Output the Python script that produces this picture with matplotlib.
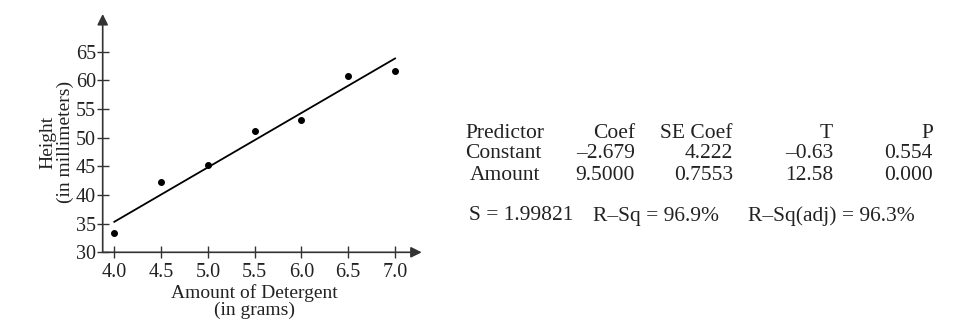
import matplotlib
matplotlib.use("Agg")
import matplotlib.pyplot as plt
import numpy as np

# Data
amount = [4.0, 4.5, 5.0, 5.5, 6.0, 6.5, 7.0]
height = [33.3, 42.2, 45.3, 51.1, 53.0, 60.7, 61.6]
intercept = -2.679
slope = 9.5
x_ticks = [4.0, 4.5, 5.0, 5.5, 6.0, 6.5, 7.0]
y_ticks = [30, 35, 40, 45, 50, 55, 60, 65]

table_header = ["Predictor", "Coef", "SE Coef", "T", "P"]
table_rows = [
    ["Constant", "\u20132.679", "4.222", "\u20130.63", "0.554"],
    ["Amount", "9.5000", "0.7553", "12.58", "0.000"],
]
summary = ["S = 1.99821", "R\u2013Sq = 96.9%", "R\u2013Sq(adj) = 96.3%"]

plt.rcParams['font.family'] = ['Liberation Serif', 'DejaVu Serif']
W, H = 979, 335
fig = plt.figure(figsize=(W / 100, H / 100), dpi=100)

# axes geometry in pixels
ax_l, ax_r, ax_b, ax_t = 102.7, 421.7, 252.3, 14.0
ax = fig.add_axes([ax_l / W, 1 - ax_b / H, (ax_r - ax_l) / W, (ax_b - ax_t) / H])
ax.set_xlim(3.876, 7.285)
ax.set_ylim(30, 71.58)

axis_color = "#333333"
text_color = "#222222"
for s in ["top", "right", "left", "bottom"]:
    ax.spines[s].set_visible(False)
ax.annotate('', xy=(1, 0), xytext=(0, 0), xycoords='axes fraction',
            arrowprops=dict(arrowstyle='-|>', color=axis_color, lw=1.2,
                            mutation_scale=16, shrinkA=0, shrinkB=0))
ax.annotate('', xy=(0, 1), xytext=(0, 0), xycoords='axes fraction',
            arrowprops=dict(arrowstyle='-|>', color=axis_color, lw=1.2,
                            mutation_scale=16, shrinkA=0, shrinkB=0))

ax.set_xticks(x_ticks)
ax.set_xticklabels([f"{v:.1f}" for v in x_ticks])
ax.set_yticks(y_ticks)
ax.set_yticklabels([str(v) for v in y_ticks])
ax.tick_params(direction='inout', length=8, width=1, color=axis_color,
               labelsize=14.5, labelcolor=text_color)
ax.tick_params(axis='x', pad=4)
ax.tick_params(axis='y', pad=1)

xl = np.array([amount[0], amount[-1]])
ax.plot(xl, intercept + slope * xl, color="black", lw=1.3)
ax.scatter(amount, height, s=16, color="black", zorder=3)

ax.set_xlabel("Amount of Detergent\n(in grams)", fontsize=14, color=text_color,
              linespacing=0.95)
ax.xaxis.set_label_coords((254.7 - ax_l) / (ax_r - ax_l), -(284 - ax_b) / (ax_b - ax_t),
                          transform=ax.transAxes)
ax.xaxis.label.set_va('top')
ax.set_ylabel("Height\n(in millimeters)", fontsize=14, color=text_color,
              linespacing=1.05)
ax.yaxis.set_label_coords((57 - ax_l) / (ax_r - ax_l), (ax_b - 142) / (ax_b - ax_t),
                          transform=ax.transAxes)
ax.yaxis.label.set_va('center')

# table
def ftext(x, y, s, ha='left'):
    fig.text(x / W, 1 - y / H, s, ha=ha, va='center', fontsize=15.5, color=text_color)

rows_y = [133, 154, 176]
col_right = [None, 635, 733, 833, 933]
left_x = [465, 465, 470]
all_rows = [table_header] + table_rows
for i, row in enumerate(all_rows):
    y = rows_y[i]
    ftext(left_x[i], y, row[0])
    for j in range(1, 5):
        ftext(col_right[j], y, row[j], ha='right')

for x, s in zip([469, 593, 748], summary):
    ftext(x, 216, s)

fig.savefig("out.png", dpi=100)
